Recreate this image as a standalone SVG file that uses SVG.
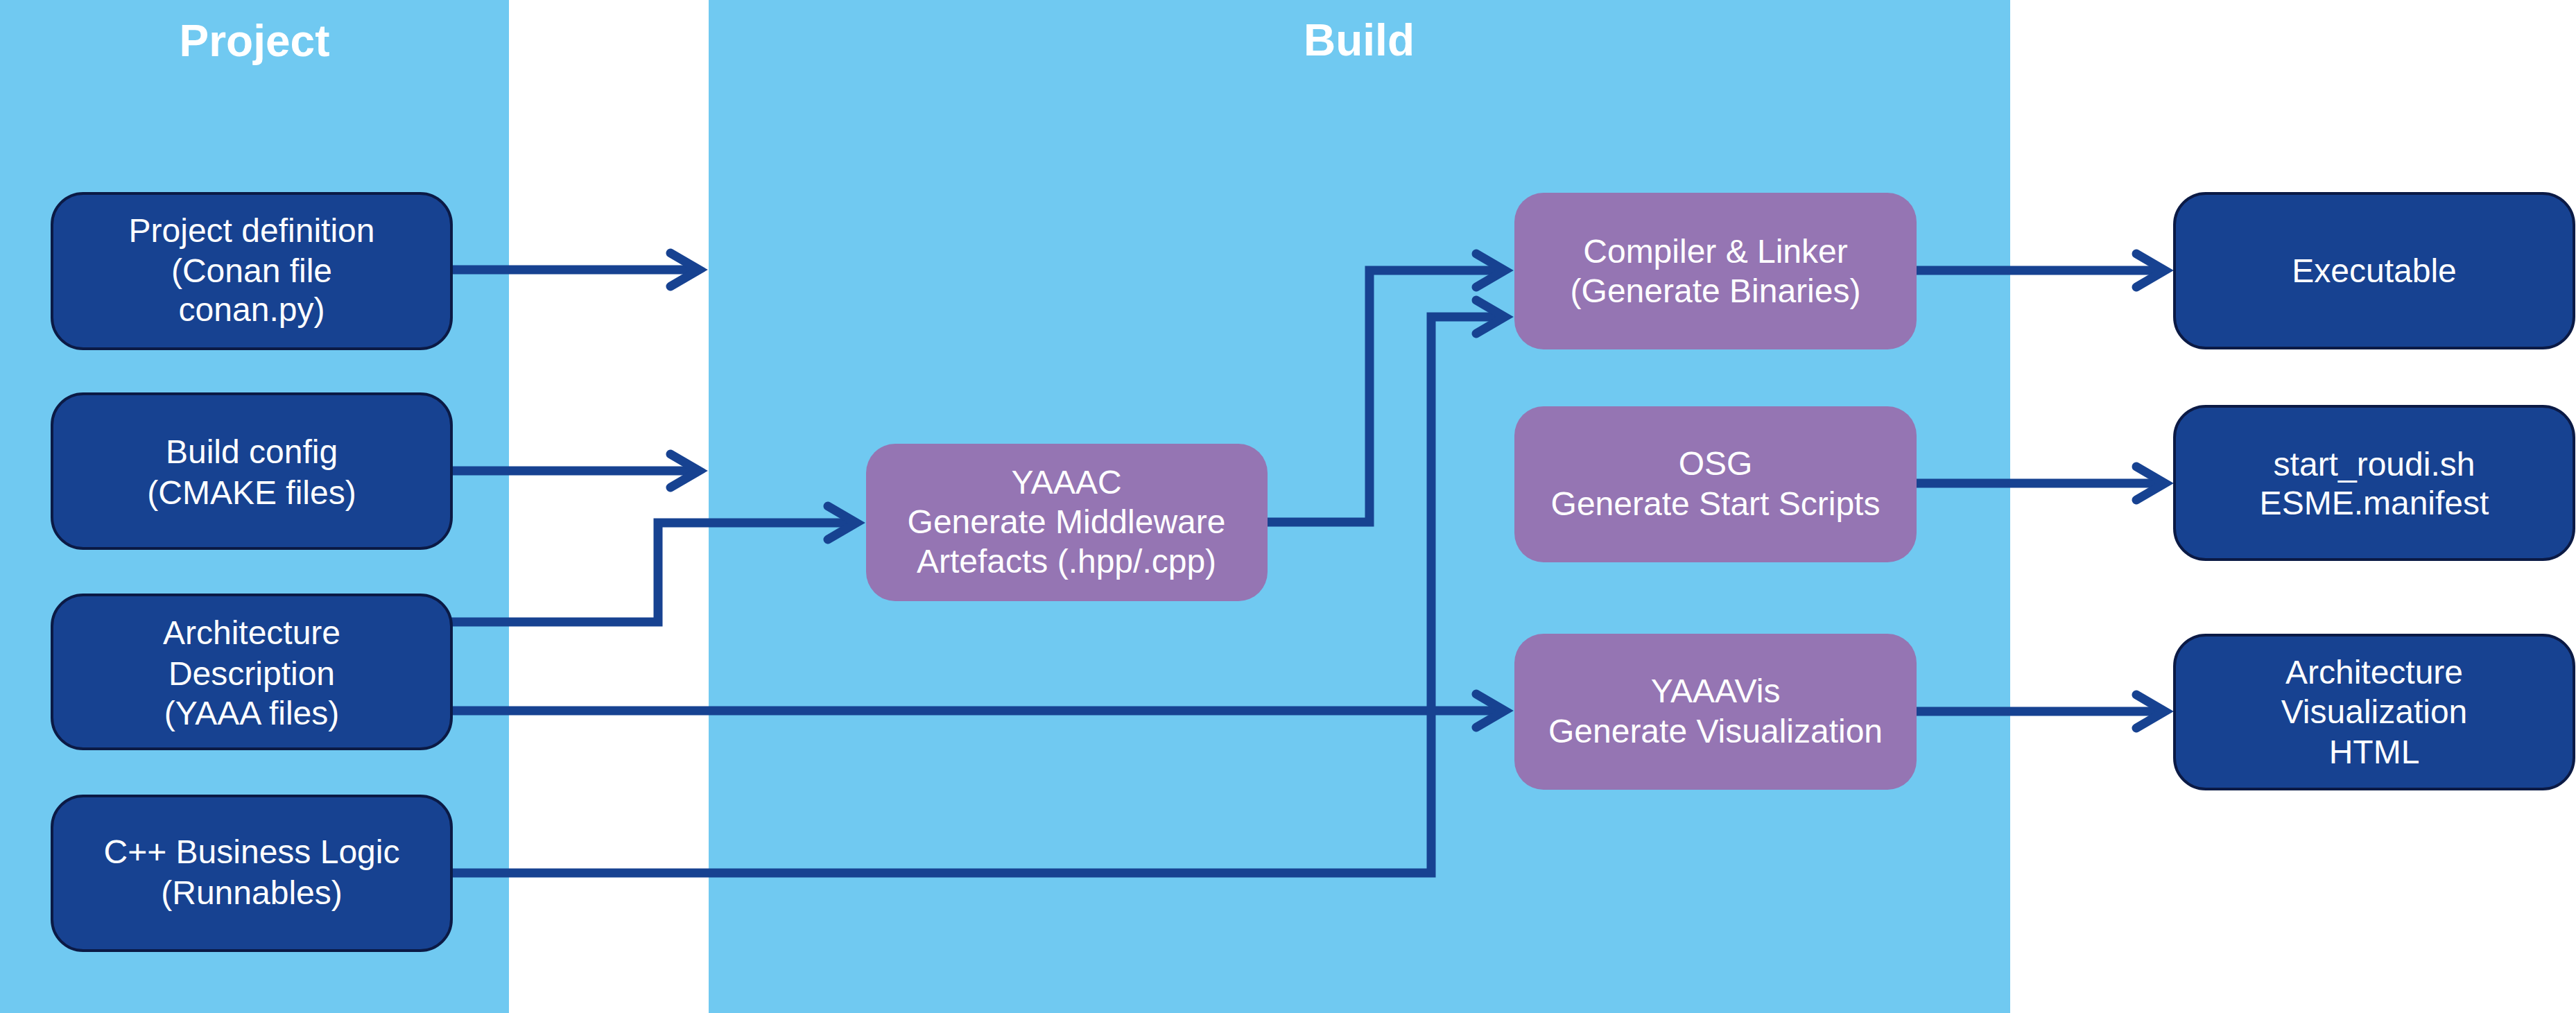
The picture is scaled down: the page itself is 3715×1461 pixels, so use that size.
<svg xmlns="http://www.w3.org/2000/svg" width="3715" height="1461" viewBox="0 0 3715 1461">
<style>
.panel{fill:#70C9F1}
.title{font-family:"Liberation Sans",Arial,sans-serif;font-size:64px;font-weight:bold;fill:#FFFFFF;text-anchor:middle}
.dark{fill:#174291;stroke:#0B1A45;stroke-width:4}
.purple{fill:#9575B3}
.lbl{font-family:"Liberation Sans",Arial,sans-serif;font-size:48px;fill:#FFFFFF;text-anchor:middle}
.conn{fill:none;stroke:#174291;stroke-width:13;stroke-linejoin:miter;marker-end:url(#ah)}
</style>
<defs>
<marker id="ah" markerUnits="userSpaceOnUse" markerWidth="90" markerHeight="80" viewBox="-70 -40 90 80" refX="0" refY="0" orient="auto" overflow="visible">
<path d="M-41,-24 L0,0 L-41,24" fill="none" stroke="#174291" stroke-width="13" stroke-linecap="round" stroke-linejoin="miter"/>
</marker>
</defs>
<rect width="3715" height="1461" fill="#FFFFFF"/>
<g id="panel-project">
<rect class="panel" x="0" y="0" width="734" height="1461"/>
<text class="title" x="367" y="81">Project</text>
</g>
<g id="panel-build">
<rect class="panel" x="1022" y="0" width="1877" height="1461"/>
<text class="title" x="1960" y="80">Build</text>
</g>
<g id="connectors">
<path class="conn" d="M651,389 H1008"/>
<path class="conn" d="M651,679 H1008"/>
<path class="conn" d="M651,897 H949 V754 H1235"/>
<path class="conn" d="M651,1025 H2170"/>
<path class="conn" d="M651,1259 H2064 V457 H2170"/>
<path class="conn" d="M1828,753 H1975 V390 H2170"/>
<path class="conn" d="M2764,390 H3122"/>
<path class="conn" d="M2764,697 H3122"/>
<path class="conn" d="M2764,1026 H3122"/>
</g>
<g id="project-definition">
<rect class="dark" x="75" y="279" width="576" height="224" rx="45" ry="45"/>
<text class="lbl" x="363" y="349">Project definition</text>
<text class="lbl" x="363" y="407">(Conan file</text>
<text class="lbl" x="363" y="463">conan.py)</text>
</g>
<g id="build-config">
<rect class="dark" x="75" y="568" width="576" height="223" rx="45" ry="45"/>
<text class="lbl" x="363" y="668">Build config</text>
<text class="lbl" x="363" y="727">(CMAKE files)</text>
</g>
<g id="architecture-description">
<rect class="dark" x="75" y="858" width="576" height="222" rx="45" ry="45"/>
<text class="lbl" x="363" y="929">Architecture</text>
<text class="lbl" x="363" y="988">Description</text>
<text class="lbl" x="363" y="1045">(YAAA files)</text>
</g>
<g id="cpp-business-logic">
<rect class="dark" x="75" y="1148" width="576" height="223" rx="45" ry="45"/>
<text class="lbl" x="363" y="1245">C++ Business Logic</text>
<text class="lbl" x="363" y="1304">(Runnables)</text>
</g>
<g id="yaaac">
<rect class="purple" x="1249" y="640" width="579" height="227" rx="42" ry="42"/>
<text class="lbl" x="1538" y="712">YAAAC</text>
<text class="lbl" x="1538" y="769">Generate Middleware</text>
<text class="lbl" x="1538" y="826">Artefacts (.hpp/.cpp)</text>
</g>
<g id="compiler-linker">
<rect class="purple" x="2184" y="278" width="580" height="226" rx="42" ry="42"/>
<text class="lbl" x="2474" y="379">Compiler &amp; Linker</text>
<text class="lbl" x="2474" y="436">(Generate Binaries)</text>
</g>
<g id="osg">
<rect class="purple" x="2184" y="586" width="580" height="225" rx="42" ry="42"/>
<text class="lbl" x="2474" y="685">OSG</text>
<text class="lbl" x="2474" y="743">Generate Start Scripts</text>
</g>
<g id="yaaavis">
<rect class="purple" x="2184" y="914" width="580" height="225" rx="42" ry="42"/>
<text class="lbl" x="2474" y="1013">YAAAVis</text>
<text class="lbl" x="2474" y="1071">Generate Visualization</text>
</g>
<g id="executable">
<rect class="dark" x="3136" y="279" width="576" height="223" rx="45" ry="45"/>
<text class="lbl" x="3424" y="407">Executable</text>
</g>
<g id="start-scripts">
<rect class="dark" x="3136" y="586" width="576" height="221" rx="45" ry="45"/>
<text class="lbl" x="3424" y="686">start_roudi.sh</text>
<text class="lbl" x="3424" y="742">ESME.manifest</text>
</g>
<g id="architecture-visualization">
<rect class="dark" x="3136" y="916" width="576" height="222" rx="45" ry="45"/>
<text class="lbl" x="3424" y="986">Architecture</text>
<text class="lbl" x="3424" y="1043">Visualization</text>
<text class="lbl" x="3424" y="1101">HTML</text>
</g>
</svg>
